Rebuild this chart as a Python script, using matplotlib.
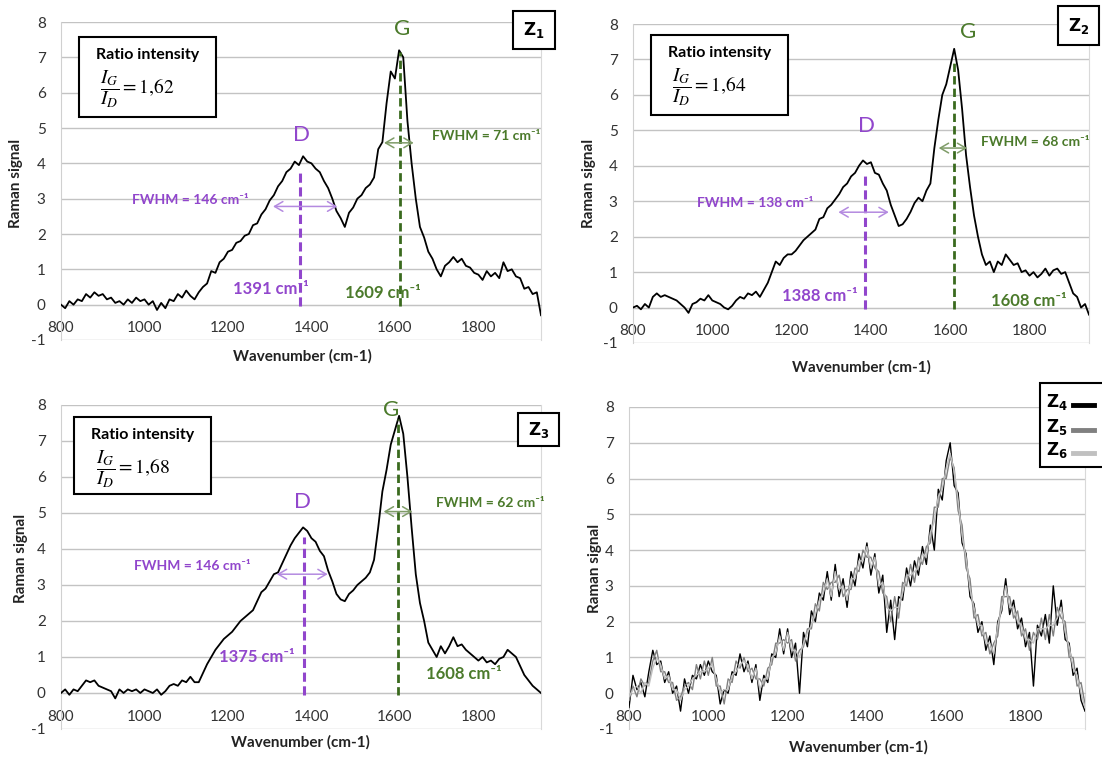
import numpy as np
import matplotlib
matplotlib.use("Agg")
import matplotlib.pyplot as plt
from matplotlib.patches import Rectangle
from matplotlib.lines import Line2D

plt.rcParams['font.family'] = ['Lato', 'DejaVu Sans']
plt.rcParams['axes.unicode_minus'] = False

# wavenumber grid, one value every 10 cm-1 from 800 to 1950
wavenumber = np.arange(800, 1951, 10)

z1 = [0.0, -0.1, 0.1, 0.0, 0.15, 0.1, 0.3, 0.2, 0.35, 0.25,
      0.3, 0.15, 0.2, 0.05, 0.1, 0.0, 0.15, 0.05, 0.2, 0.1,
      0.15, 0.0, 0.1, -0.15, 0.05, -0.1, 0.15, 0.1, 0.3, 0.2,
      0.4, 0.25, 0.15, 0.35, 0.5, 0.6, 0.95, 0.9, 1.2, 1.3,
      1.5, 1.55, 1.75, 1.8, 1.95, 2.0, 2.25, 2.3, 2.55, 2.7,
      2.95, 3.1, 3.35, 3.5, 3.75, 3.85, 4.05, 3.95, 4.2, 4.05,
      4.0, 3.85, 3.75, 3.5, 3.3, 3.0, 2.65, 2.45, 2.2, 2.6,
      2.75, 3.0, 3.1, 3.3, 3.4, 3.6, 4.4, 4.6, 5.7, 6.6,
      6.4, 7.2, 7.0, 5.2, 4.0, 3.0, 2.2, 1.9, 1.5, 1.3,
      1.0, 0.8, 1.1, 1.2, 1.35, 1.2, 1.3, 1.1, 1.05, 0.9,
      0.85, 0.7, 0.95, 0.8, 0.9, 0.75, 1.2, 0.95, 1.0, 0.8,
      0.75, 0.45, 0.5, 0.3, 0.35, -0.3]

z2 = [0.0, 0.05, -0.05, 0.1, 0.0, 0.3, 0.4, 0.3, 0.35, 0.3,
      0.25, 0.2, 0.1, 0.0, -0.15, 0.1, 0.15, 0.25, 0.2, 0.35,
      0.2, 0.15, 0.1, 0.0, -0.05, 0.05, 0.2, 0.3, 0.25, 0.4,
      0.35, 0.45, 0.3, 0.5, 0.7, 1.0, 1.3, 1.2, 1.4, 1.5,
      1.5, 1.6, 1.75, 1.9, 2.0, 2.1, 2.2, 2.5, 2.55, 2.8,
      2.9, 3.05, 3.2, 3.4, 3.5, 3.7, 3.8, 4.0, 4.15, 4.05,
      4.1, 3.8, 3.75, 3.5, 3.3, 2.9, 2.6, 2.3, 2.35, 2.5,
      2.7, 2.95, 3.1, 3.0, 3.3, 3.5, 4.5, 5.3, 6.0, 6.3,
      6.8, 7.3, 6.7, 5.6, 4.3, 3.4, 2.6, 2.0, 1.5, 1.2,
      1.3, 1.0, 1.3, 1.2, 1.5, 1.35, 1.2, 1.25, 1.0, 1.05,
      0.9, 1.0, 0.85, 0.95, 1.1, 0.9, 1.05, 1.1, 0.95, 1.0,
      0.7, 0.4, 0.3, 0.0, 0.1, -0.2]

z3 = [0.0, 0.1, -0.05, 0.1, 0.05, 0.2, 0.35, 0.3, 0.35, 0.2,
      0.15, 0.1, 0.05, -0.15, 0.1, 0.0, 0.1, 0.05, 0.1, 0.0,
      0.1, 0.05, 0.0, 0.1, -0.05, 0.05, 0.2, 0.25, 0.2, 0.35,
      0.3, 0.45, 0.3, 0.3, 0.55, 0.8, 1.0, 1.2, 1.35, 1.5,
      1.6, 1.7, 1.85, 2.0, 2.1, 2.2, 2.3, 2.55, 2.8, 2.9,
      3.1, 3.3, 3.35, 3.6, 3.85, 4.1, 4.3, 4.45, 4.6, 4.5,
      4.3, 4.2, 3.95, 3.8, 3.4, 3.1, 2.75, 2.6, 2.55, 2.75,
      2.85, 3.0, 3.1, 3.2, 3.35, 3.7, 4.6, 5.6, 6.2, 6.9,
      7.3, 7.7, 7.2, 6.0, 4.6, 3.3, 2.5, 2.0, 1.4, 1.2,
      1.0, 1.3, 1.1, 1.3, 1.55, 1.3, 1.35, 1.2, 1.1, 1.0,
      0.9, 1.0, 0.85, 0.9, 0.8, 0.95, 1.0, 1.2, 1.1, 1.0,
      0.75, 0.5, 0.35, 0.2, 0.1, 0.0]

z4 = [-0.4, 0.5, 0.1, 0.3, -0.1, 0.6, 1.2, 0.8, 0.9, 0.3,
      0.6, 0.0, 0.2, -0.5, 0.4, 0.0, 0.5, 0.4, 0.8, 0.5,
      0.9, 0.6, 0.5, -0.3, 0.1, 0.0, 0.6, 0.5, 1.1, 0.6,
      0.9, 0.3, 0.8, -0.2, 0.5, 0.3, 1.1, 1.0, 1.8, 1.1,
      1.8, 1.0, 1.4, 0.0, 1.7, 1.3, 2.3, 2.0, 2.8, 2.6,
      3.4, 2.6, 3.6, 2.7, 3.2, 2.4, 3.4, 3.0, 3.9, 3.5,
      4.2, 3.3, 3.9, 2.8, 3.3, 1.7, 2.6, 1.5, 2.7, 2.6,
      3.5, 3.0, 3.7, 3.3, 4.1, 3.6, 4.7, 4.0, 5.7, 5.4,
      6.5, 7.0, 5.8, 5.6, 4.2, 3.9, 2.7, 2.5, 1.7, 2.0,
      1.2, 1.6, 0.8, 2.0, 2.3, 3.2, 2.2, 2.6, 1.8, 2.1,
      1.3, 1.7, 0.2, 1.9, 1.6, 2.2, 1.4, 3.0, 1.9, 2.6,
      1.5, 1.4, 0.5, 0.7, -0.2, -0.5]

z5 = [-0.2, 0.2, -0.1, 0.4, 0.2, 0.3, 0.9, 1.2, 0.6, 0.6,
      0.3, 0.3, -0.2, -0.1, 0.2, 0.3, 0.1, 0.8, 0.4, 0.9,
      0.5, 1.0, 0.2, 0.2, -0.3, 0.4, 0.3, 0.9, 0.7, 1.0,
      0.6, 0.7, 0.4, 0.4, 0.2, 0.7, 0.8, 1.4, 1.4, 1.5,
      1.4, 1.5, 0.9, 1.2, 1.3, 1.8, 1.8, 2.5, 2.3, 3.1,
      2.9, 3.1, 3.1, 3.3, 2.7, 2.9, 2.9, 3.5, 3.4, 4.0,
      3.8, 3.8, 3.5, 3.4, 2.8, 2.7, 2.0, 2.7, 2.1, 3.1,
      3.0, 3.6, 3.1, 3.8, 3.6, 4.1, 4.2, 5.2, 5.2, 6.0,
      6.0, 6.6, 6.3, 5.1, 4.7, 3.5, 3.2, 2.1, 2.2, 1.6,
      1.7, 1.1, 1.4, 1.6, 2.7, 2.7, 2.7, 2.1, 2.3, 1.6,
      1.8, 1.2, 1.7, 1.5, 2.1, 1.5, 2.2, 1.6, 2.4, 2.1,
      2.0, 1.0, 1.0, 0.2, 0.3, -0.3]

z6 = [-0.1, 0.1, 0.2, 0.0, 0.3, 0.2, 0.7, 1.0, 0.8, 0.4,
      0.5, 0.1, 0.1, -0.2, 0.1, 0.2, 0.4, 0.5, 0.6, 0.6,
      0.7, 0.8, 0.4, 0.0, 0.1, 0.1, 0.5, 0.6, 0.8, 0.9,
      0.8, 0.4, 0.7, 0.1, 0.4, 0.4, 1.0, 1.1, 1.6, 1.2,
      1.7, 1.2, 1.2, 1.0, 1.4, 1.7, 1.9, 2.2, 2.6, 2.8,
      3.2, 2.7, 3.4, 2.9, 3.0, 2.6, 3.2, 3.2, 3.7, 3.7,
      4.1, 3.5, 3.8, 3.0, 3.1, 2.4, 2.3, 2.4, 2.4, 2.8,
      3.3, 3.3, 3.4, 3.5, 3.9, 3.8, 4.5, 4.8, 5.5, 5.7,
      6.3, 6.7, 6.2, 5.4, 4.4, 3.8, 2.9, 2.4, 1.9, 1.9,
      1.4, 1.4, 1.1, 1.9, 2.4, 3.0, 2.4, 2.4, 2.0, 1.9,
      1.5, 1.5, 1.4, 1.8, 1.8, 1.8, 1.9, 1.9, 2.1, 2.4,
      1.7, 1.3, 0.7, 0.5, 0.0, -0.4]

# peak annotations for the first three panels
ratios = ["1{,}62", "1{,}64", "1{,}68"]
d_pos = [1391, 1388, 1375]
g_pos = [1609, 1608, 1608]
d_fwhm = [146, 138, 146]
g_fwhm = [71, 68, 62]

PURPLE = '#9146cc'
PURPLE_L = '#b48ae0'
GREEN = '#4b7a2b'
GREEN_D = '#3a6a1e'
GREEN_L = '#7f9c68'
GRID = '#c3c3c3'
TXT = '#333333'

W, H = 1102, 757
fig = plt.figure(figsize=(W / 100, H / 100), dpi=100)


def fx(x):
    return x / W


def fy(y):
    return 1 - y / H


def make_axes(l, t, r, b):
    ax = fig.add_axes([fx(l), fy(b), fx(r) - fx(l), fy(t) - fy(b)])
    ax.set_xlim(800, 1950)
    ax.set_ylim(-1, 8)
    ax.set_xticks(range(800, 1801, 200))
    ax.set_yticks(range(-1, 9))
    ax.yaxis.grid(True, color=GRID, lw=1)
    ax.set_axisbelow(True)
    ax.spines['bottom'].set_position(('data', 0))
    ax.spines['bottom'].set_color(GRID)
    ax.spines['left'].set_color('#d0d0d0')
    ax.spines['right'].set_color('#d9d9d9')
    ax.spines['top'].set_visible(False)
    ax.tick_params(axis='x', length=0, pad=12, labelsize=11, labelcolor=TXT)
    ax.tick_params(axis='y', length=0, pad=11, labelsize=11, labelcolor=TXT)
    return ax


def box_text(l, t, r, b, lw=1.5):
    fig.add_artist(Rectangle((fx(l), fy(b)), fx(r) - fx(l), fy(t) - fy(b),
                             transform=fig.transFigure, facecolor='white',
                             edgecolor='black', lw=lw, zorder=5))


ax_bounds = [(61, 22, 541, 340), (633, 24, 1089, 343),
             (61, 405, 541, 729), (629, 407, 1085, 729)]
axes = [make_axes(*b) for b in ax_bounds]

xlab = [(302, 356), (861, 367), (300, 742), (858, 747)]
ylab = [(16, 183), (589, 183), (21, 558), (595, 568)]
for (x, y) in xlab:
    fig.text(fx(x), fy(y), 'Wavenumber (cm-1)', ha='center', va='center',
             fontsize=11, fontweight='bold', color='#222222')
for (x, y) in ylab:
    fig.text(fx(x), fy(y), 'Raman signal', ha='center', va='center',
             rotation=90, fontsize=11, fontweight='bold', color='#222222')

# annotation layout of the three single spectra
ratio_box = [(79, 37, 216, 117), (651, 35, 788, 115), (74, 417, 211, 494)]
z_box = [(513, 11, 555, 49), (1058, 6, 1099, 45), (518, 413, 559, 446)]
g_lbl = [(1617, 7.8), (1645, 7.77), (1591, 7.86)]
d_lbl = [(1377, 4.81), (1388, 5.11), (1379, 5.3)]
d_line = [(1373, 3.85), (1385, 3.8), (1381, 4.33)]
g_line = [(1612, 7.15), (1610, 7.0), (1608, 7.6)]
d_arrow = [(1308, 1462, 2.78), (1318, 1445, 2.69), (1317, 1439, 3.3)]
d_fw_txt = [(1109, 2.97), (1107, 2.94), (1115, 3.53)]
g_arrow = [(1574, 1645, 4.58), (1571, 1643, 4.5), (1573, 1642, 5.04)]
g_fw_txt = [(1688, 4.77), (1678, 4.66), (1699, 5.28)]
d_pos_txt = [(1302, 0.44), (1270, 0.33), (1269, 1.0)]
g_pos_txt = [(1572, 0.33), (1797, 0.19), (1766, 0.54)]

for i, y in enumerate([z1, z2, z3]):
    ax = axes[i]
    ax.plot(wavenumber, y, color='black', lw=1.3, zorder=3)

    ax.plot([d_line[i][0]] * 2, [-0.05, d_line[i][1]], ls=(0, (3, 1.5)),
            color=PURPLE, lw=2.2, zorder=4)
    ax.plot([g_line[i][0]] * 2, [-0.05, g_line[i][1]], ls=(0, (3, 1.5)),
            color=GREEN_D, lw=2.0, zorder=4)

    ax.text(*g_lbl[i], 'G', color=GREEN, fontsize=16, ha='center', va='center',
            zorder=6)
    ax.text(*d_lbl[i], 'D', color=PURPLE, fontsize=16, ha='center', va='center',
            zorder=6)

    x1, x2, ya = d_arrow[i]
    ax.annotate('', xy=(x2, ya), xytext=(x1, ya), zorder=6,
                arrowprops=dict(arrowstyle='<->,head_length=0.6,head_width=0.35',
                                color=PURPLE_L, lw=1.1, shrinkA=0, shrinkB=0))
    x1, x2, ya = g_arrow[i]
    ax.annotate('', xy=(x2, ya), xytext=(x1, ya), zorder=6,
                arrowprops=dict(arrowstyle='<->,head_length=0.6,head_width=0.35',
                                color=GREEN_L, lw=1.1, shrinkA=0, shrinkB=0))

    ax.text(*d_fw_txt[i], 'FWHM = %d cm⁻¹' % d_fwhm[i], color=PURPLE,
            fontsize=10, fontweight='bold', ha='center', va='center', zorder=6)
    ax.text(*g_fw_txt[i], 'FWHM = %d cm⁻¹' % g_fwhm[i], color=GREEN,
            fontsize=10, fontweight='bold', ha='left', va='center', zorder=6,
            clip_on=False)
    ax.text(*d_pos_txt[i], '%d cm⁻¹' % d_pos[i], color=PURPLE,
            fontsize=12, fontweight='bold', ha='center', va='center', zorder=6)
    ax.text(*g_pos_txt[i], '%d cm⁻¹' % g_pos[i], color=GREEN,
            fontsize=12, fontweight='bold', ha='center', va='center', zorder=6)

    l, t, r, b = ratio_box[i]
    box_text(l, t, r, b)
    cx = (l + r) / 2
    fig.text(fx(cx), fy(t + 18), 'Ratio intensity', ha='center', va='center',
             fontsize=11.5, fontweight='bold', zorder=6)
    fig.text(fx(cx - 10), fy(t + 52), r'$\dfrac{I_G}{I_D} = %s$' % ratios[i],
             ha='center', va='center', fontsize=14, math_fontfamily='stix',
             zorder=6)

    l, t, r, b = z_box[i]
    box_text(l, t, r, b)
    fig.text(fx((l + r) / 2), fy((t + b) / 2), r'$\mathbf{Z}_{\mathbf{%d}}$' % (i + 1),
             ha='center', va='center', fontsize=12, math_fontfamily='dejavusans',
             zorder=6)

# overlay of the three other spectra
ax = axes[3]
ax.plot(wavenumber, z4, color='black', lw=1.0, zorder=3)
ax.plot(wavenumber, z5, color='#808080', lw=1.0, zorder=3)
ax.plot(wavenumber, z6, color='#c0c0c0', lw=1.0, zorder=3)

box_text(1040, 383, 1104, 467)
legend_rows = [('4', 'black', 402), ('5', '#808080', 427), ('6', '#c0c0c0', 450)]
for num, col, yy in legend_rows:
    fig.text(fx(1057), fy(yy), r'$\mathbf{Z}_{\mathbf{%s}}$' % num, ha='center',
             va='center', fontsize=12, math_fontfamily='dejavusans', zorder=6)
    fig.add_artist(Line2D([fx(1073), fx(1094)], [fy(yy + 3), fy(yy + 3)],
                          transform=fig.transFigure, color=col, lw=3.5, zorder=6))

fig.savefig('out.png', dpi=100)
